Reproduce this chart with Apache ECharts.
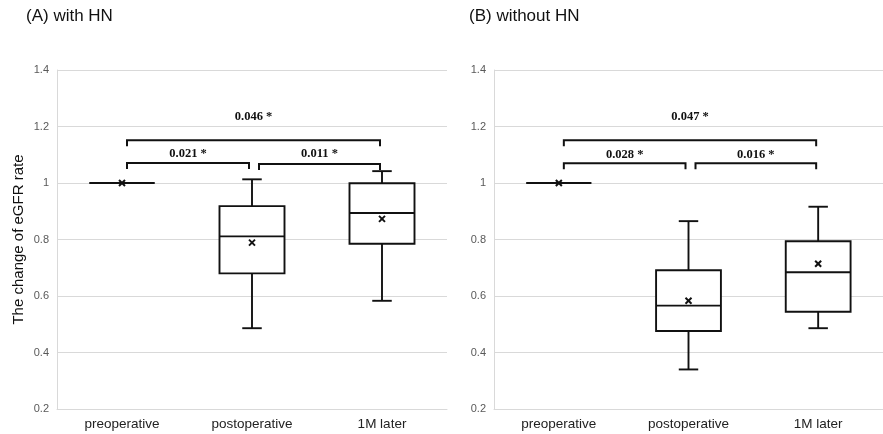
<!DOCTYPE html>
<html>
<head>
<meta charset="utf-8">
<script src="https://cdn.jsdelivr.net/npm/echarts@6/dist/echarts.min.js"></script>
<style>html,body{margin:0;padding:0;background:#fff}#c{width:883px;height:434px}</style>
</head>
<body>
<div id="c"></div>
<script>
// ---------- data ----------
const categories = ['preoperative', 'postoperative', '1M later'];
const panelTitles = ['(A) with HN', '(B) without HN'];
const yAxisName = 'The change of eGFR rate';
const yMin = 0.2, yMax = 1.4, yInterval = 0.2;

// [low, Q1, median, Q3, high]
const boxA = [[1, 1, 1, 1, 1], [0.486, 0.680, 0.811, 0.918, 1.013], [0.583, 0.785, 0.894, 0.999, 1.042]];
const meanA = [1.0, 0.789, 0.873];
const boxB = [[1, 1, 1, 1, 1], [0.340, 0.476, 0.566, 0.691, 0.865], [0.486, 0.544, 0.684, 0.794, 0.916]];
const meanB = [1.0, 0.583, 0.714];

// [fromCategory, toCategory, bracketY, labelY]
const bracketsA = [[0, 2, 1.151, 1.233], [0, 1, 1.071, 1.105], [1, 2, 1.067, 1.102]];
const bracketLabelsA = ['0.046 *', '0.021 *', '0.011 *'];
const bracketsB = [[0, 2, 1.151, 1.234], [0, 1, 1.070, 1.099], [1, 2, 1.070, 1.099]];
const bracketLabelsB = ['0.047 *', '0.028 *', '0.016 *'];

// ---------- styles ----------
const LINE = '#111';
const bracketOffsets = [[5, -2], [5, -3], [7, -2]];
const tickLen = 6;

function boxRender(params, api) {
  const idx = api.value(0);
  const lo = api.coord([idx, api.value(1)]);
  const q1 = api.coord([idx, api.value(2)]);
  const md = api.coord([idx, api.value(3)]);
  const q3 = api.coord([idx, api.value(4)]);
  const hi = api.coord([idx, api.value(5)]);
  const bw = api.size([1, 0])[0];
  const half = bw * 0.25, cap = bw * 0.075;
  const x = lo[0];
  const st = { stroke: LINE, lineWidth: 1.9 };
  return {
    type: 'group',
    children: [
      { type: 'line', shape: { x1: x, y1: lo[1], x2: x, y2: q1[1] }, style: st },
      { type: 'line', shape: { x1: x, y1: q3[1], x2: x, y2: hi[1] }, style: st },
      { type: 'line', shape: { x1: x - cap, y1: lo[1], x2: x + cap, y2: lo[1] }, style: st },
      { type: 'line', shape: { x1: x - cap, y1: hi[1], x2: x + cap, y2: hi[1] }, style: st },
      { type: 'rect', shape: { x: x - half, y: q3[1], width: 2 * half, height: q1[1] - q3[1] }, style: { fill: '#fff', stroke: LINE, lineWidth: 1.9 } },
      { type: 'line', shape: { x1: x - half, y1: md[1], x2: x + half, y2: md[1] }, style: st }
    ]
  };
}

function meanRender(params, api) {
  const p = api.coord([api.value(0), api.value(1)]);
  const s = 3;
  const st = { stroke: LINE, lineWidth: 2 };
  return {
    type: 'group',
    children: [
      { type: 'line', shape: { x1: p[0] - s, y1: p[1] - s, x2: p[0] + s, y2: p[1] + s }, style: st },
      { type: 'line', shape: { x1: p[0] - s, y1: p[1] + s, x2: p[0] + s, y2: p[1] - s }, style: st }
    ]
  };
}

function makeBracketRender(labels) {
  return function (params, api) {
    const i = params.dataIndex;
    const a = api.coord([api.value(0), api.value(2)]);
    const b = api.coord([api.value(1), api.value(2)]);
    const ly = api.coord([api.value(0), api.value(3)])[1];
    const off = bracketOffsets[i];
    const x1 = a[0] + off[0], x2 = b[0] + off[1], y = a[1];
    return {
      type: 'group',
      children: [
        { type: 'polyline', shape: { points: [[x1, y + tickLen], [x1, y], [x2, y], [x2, y + tickLen]] }, style: { stroke: LINE, lineWidth: 2, fill: null } },
        { type: 'text', x: (x1 + x2) / 2, y: ly, style: { text: labels[i], fill: '#111', font: 'bold 12.5px "Liberation Serif"', align: 'center', verticalAlign: 'middle' } }
      ]
    };
  };
}

function yAxis(gi, withName) {
  const ax = {
    type: 'value', gridIndex: gi, min: yMin, max: yMax, interval: yInterval,
    axisLine: { show: true, lineStyle: { color: '#d9d9d9' } },
    axisTick: { show: false },
    splitLine: { lineStyle: { color: '#d9d9d9' } },
    axisLabel: { color: '#595959', fontSize: 11, margin: 8, fontFamily: 'Liberation Sans', formatter: v => String(+v.toFixed(1)) }
  };
  if (withName) {
    Object.assign(ax, {
      name: yAxisName, nameLocation: 'middle', nameGap: 31,
      nameTextStyle: { fontSize: 15, color: '#111', fontFamily: 'Liberation Sans' }
    });
  }
  return ax;
}
function xAxis(gi) {
  return {
    type: 'category', gridIndex: gi, data: categories,
    axisLine: { show: true, lineStyle: { color: '#d9d9d9' } },
    axisTick: { show: false },
    axisLabel: { color: '#222', fontSize: 13.5, margin: 8, fontFamily: 'Liberation Sans' }
  };
}

const boxes = [boxA, boxB], means = [meanA, meanB], brackets = [bracketsA, bracketsB], blabels = [bracketLabelsA, bracketLabelsB];
const series = [];
[0, 1].forEach(g => {
  series.push({ type: 'custom', xAxisIndex: g, yAxisIndex: g, renderItem: boxRender,
    encode: { x: 0, y: [1, 2, 3, 4, 5] },
    data: boxes[g].map((b, i) => [i].concat(b)) });
  series.push({ type: 'custom', xAxisIndex: g, yAxisIndex: g, renderItem: meanRender,
    encode: { x: 0, y: 1 }, z: 3,
    data: means[g].map((m, i) => [i, m]) });
  series.push({ type: 'custom', xAxisIndex: g, yAxisIndex: g, renderItem: makeBracketRender(blabels[g]),
    encode: { x: [0, 1], y: [2, 3] },
    data: brackets[g] });
});

const chart = echarts.init(document.getElementById('c'));
chart.setOption({
  animation: false,
  backgroundColor: '#fff',
  title: [
    { text: panelTitles[0], left: 26, top: 8, padding: 0, textStyle: { fontSize: 17, fontWeight: 'normal', color: '#111', fontFamily: 'Liberation Sans' } },
    { text: panelTitles[1], left: 469, top: 8, padding: 0, textStyle: { fontSize: 17, fontWeight: 'normal', color: '#111', fontFamily: 'Liberation Sans' } }
  ],
  grid: [
    { left: 57, top: 70, width: 390, height: 339 },
    { left: 494, top: 70, width: 390, height: 339 }
  ],
  xAxis: [xAxis(0), xAxis(1)],
  yAxis: [yAxis(0, true), yAxis(1, false)],
  series: series
});
</script>
</body>
</html>
